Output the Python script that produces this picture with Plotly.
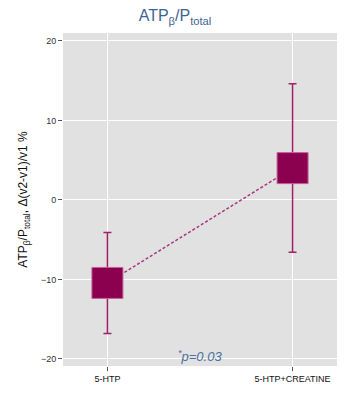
import plotly.graph_objects as go

categories = ["5-HTP", "5-HTP+CREATINE"]
means = [-10.45, 4.0]
errors = [6.35, 10.6]
y_ticks = [-20, -10, 0, 10, 20]

fig = go.Figure()
fig.add_trace(go.Scatter(
    x=categories, y=means, mode="lines",
    line=dict(color="#a8387a", width=1.5, dash="3px,2px"),
    hoverinfo="skip", showlegend=False))
fig.add_trace(go.Scatter(
    x=categories, y=means, mode="markers",
    marker=dict(symbol="square", size=31, color="#8c0050",
                line=dict(color="#c4609a", width=1)),
    error_y=dict(type="data", array=errors, visible=True,
                 color="#a0206a", thickness=1.5, width=4),
    showlegend=False))

# page body has an 8px default margin; size the figure to fit inside the window
fig.update_layout(
    width=334, height=384,
    margin=dict(l=55, r=5, t=25, b=26),
    paper_bgcolor="white", plot_bgcolor="#e1e1e1",
    font=dict(family="Liberation Sans, Arial, sans-serif", color="#222"),
    title=dict(text="ATP<sub>β</sub>/P<sub>total</sub>", x=0.5, xanchor="center",
               y=0.965, yanchor="bottom",
               font=dict(size=16, color="#3d6494")),
    xaxis=dict(type="category", range=[-0.24, 1.24], showgrid=True,
               gridcolor="white", gridwidth=1.2, zeroline=False,
               ticks="outside", ticklen=4, tickcolor="#555",
               tickfont=dict(size=9, color="#111"), showline=False),
    yaxis=dict(range=[-20.9, 21.0], tickvals=y_ticks, showgrid=True,
               gridcolor="white", gridwidth=1.2, zeroline=False,
               ticks="outside", ticklen=4, tickcolor="#555",
               tickfont=dict(size=9, color="#333"),
               title=dict(text="ATP<sub>β</sub>/P<sub>total</sub>, Δ(v2-v1)/v1 %",
                          font=dict(size=12, color="#111"), standoff=10)),
    annotations=[dict(text="<i><sup>*</sup>p=0.03</i>", x=0.5, xref="paper",
                      y=-19.7, yref="y", showarrow=False,
                      font=dict(size=13, color="#4a70a0"))],
)
fig.write_html("out.html")
